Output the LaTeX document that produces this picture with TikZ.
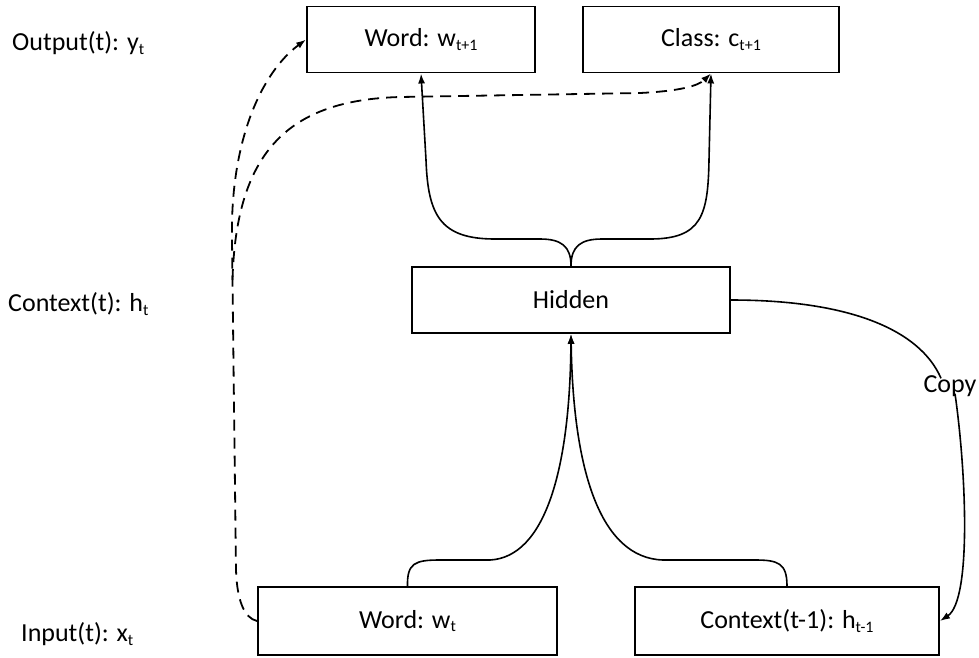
\documentclass[tikz,border=0pt]{standalone}
\usepackage{fontspec}
\setmainfont{Carlito}
\usetikzlibrary{arrows.meta}
\newcommand{\lsub}[1]{\raisebox{-0.14em}{\fontsize{16}{16}\selectfont #1}}
\begin{document}
\begin{tikzpicture}[x=1pt,y=-1pt,
  txt/.style={font=\fontsize{26}{30}\selectfont, inner sep=0pt},
  box/.style={txt, draw, line width=1.9pt, minimum height=66pt},
  conn/.style={line width=1.6pt, -{Latex[length=10pt,width=7pt]}},
  plain/.style={line width=1.6pt},
  dsh/.style={line width=1.8pt, dash pattern=on 11pt off 7pt}]
\useasboundingbox (0,0) rectangle (979,657);
% boxes
\node[box, minimum width=228pt] (w1) at (421,39.5) {Word: w\lsub{t+1}};
\node[box, minimum width=256pt] (cls) at (711,39.5) {Class: c\lsub{t+1}};
\node[box, minimum width=318pt] (hid) at (571,300) {Hidden};
\node[box, minimum width=299pt, minimum height=68pt] (w0) at (407.5,621) {Word: w\lsub{t}};
\node[box, minimum width=304pt, minimum height=68pt] (ctx) at (787,621) {Context(t-1): h\lsub{t-1}};
% side labels
\node[txt, anchor=west] (lout) at (12,43) {Output(t): y\lsub{t}};
\node[txt, anchor=west] (lctx) at (8,304) {Context(t): h\lsub{t}};
\node[txt, anchor=west] (lin) at (21,634) {Input(t): x\lsub{t}};
\node[txt] (copy) at (950,386) {Copy};
% hidden -> outputs
\draw[conn] (hid.north) .. controls (571,246) and (561,239) .. (540,239) -- (495,239)
  .. controls (440,239) and (428,215) .. (426,160) -- (w1.south);
\draw[conn] (hid.north) .. controls (571,246) and (581,239) .. (602,239) -- (650,239)
  .. controls (702,239) and (708,215) .. (709,160) -- (cls.south);
% inputs -> hidden
\draw[conn] (w0.north) .. controls (407,563) and (415,560) .. (440,560) -- (490,560)
  .. controls (545,557) and (570,470) .. (hid.south);
\draw[conn] (ctx.north) .. controls (787,563) and (778,560) .. (755,560) -- (663,560)
  .. controls (600,558) and (573,470) .. (hid.south);
% copy
\draw[plain] (hid.east) .. controls (850,300) and (920,330) .. ([xshift=-9pt,yshift=-3pt]copy.north);
\draw[conn] ([xshift=5pt,yshift=3pt]copy.south) .. controls (966,470) and (972,600) .. (ctx.east);
% dashed
\coordinate (split) at (232.5,280);
\draw[dsh, -{Latex[length=10pt,width=7pt]}] (w0.west) .. controls (244,618) and (237,600) .. (236,570)
  -- (232,240) .. controls (230,140) and (262,72) .. (w1.west);
\draw[dsh, -{Latex[length=10pt,width=7pt]}] (split) .. controls (236,150) and (290,100) .. (400,97)
  -- (640,93) .. controls (680,91) and (698,86) .. (cls.south);
\end{tikzpicture}
\end{document}
